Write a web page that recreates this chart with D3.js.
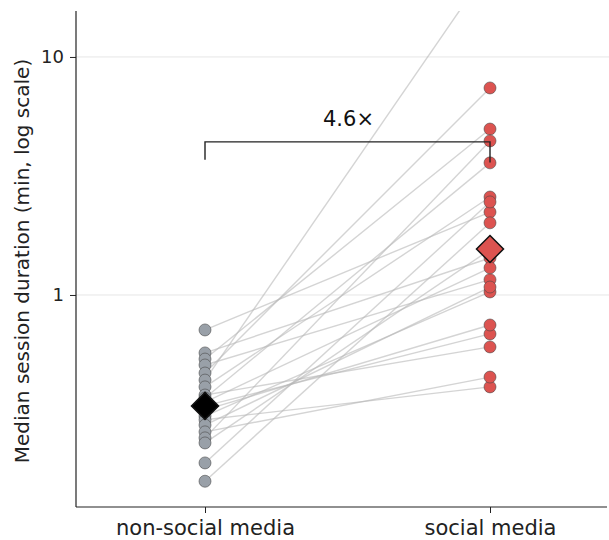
<!DOCTYPE html>
<html>
<head>
<meta charset="utf-8">
<script src="https://cdn.jsdelivr.net/npm/d3@7/dist/d3.min.js"></script>
<style>
  html, body { margin: 0; padding: 0; background: #fff; }
  svg { display: block; font-family: "DejaVu Sans", sans-serif; }
</style>
</head>
<body>
<svg id="chart" width="609" height="540"></svg>
<script>
// ---- data (minutes) ----
const categories = ["non-social media", "social media"];
const nonSocialValues = [0.713, 0.571, 0.538, 0.508, 0.470, 0.439, 0.411, 0.380, 0.369, 0.355,
                         0.342, 0.329, 0.310, 0.299, 0.284, 0.266, 0.251, 0.239, 0.197, 0.165];
const socialValues    = [2.23, 1.43, 4.98, 1.16, 7.41, 24.0, 2.58, 0.605, 3.59, 1.30,
                         0.686, 0.748, 1.03, 0.411, 1.08, 0.452, 4.44, 1.55, 2.46, 2.01];
const medianValues = [0.342, 1.56];
const ratioLabel = "4.6×";
const bracketLevels = [3.7, 4.4, 3.6]; // left drop, top, right drop
const yTickValues = [1, 10];
const yLabel = "Median session duration (min, log scale)";

// ---- layout ----
const svg = d3.select("#chart");
const margin = { left: 76, top: 11, right: 2, bottom: 33 };
const W = 609, H = 540;
const plotBottom = H - margin.bottom; // 507

const x = d3.scalePoint().domain(categories).range([205, 490]);
const y = d3.scaleLog().domain([0.1286, 15.6]).range([plotBottom, margin.top]);

svg.append("defs").append("clipPath").attr("id", "plotclip")
  .append("rect").attr("x", margin.left).attr("y", margin.top)
  .attr("width", W - margin.left).attr("height", plotBottom - margin.top);

// gridlines
svg.append("g").selectAll("line").data(yTickValues).join("line")
  .attr("x1", margin.left).attr("x2", W)
  .attr("y1", d => y(d)).attr("y2", d => y(d))
  .attr("stroke", "#e6e6e6").attr("stroke-width", 1);

// paired lines
const pairs = nonSocialValues.map((v, i) => [v, socialValues[i]]);
svg.append("g").attr("clip-path", "url(#plotclip)")
  .selectAll("line").data(pairs).join("line")
  .attr("x1", x(categories[0])).attr("x2", x(categories[1]))
  .attr("y1", d => y(d[0])).attr("y2", d => y(d[1]))
  .attr("stroke", "#b8b8b8").attr("stroke-opacity", 0.6).attr("stroke-width", 1.4);

// points
const pointColors = ["#99a0a8", "#dc5350"];
[nonSocialValues, socialValues].forEach((vals, ci) => {
  svg.append("g").attr("clip-path", "url(#plotclip)")
    .selectAll("circle").data(vals).join("circle")
    .attr("cx", x(categories[ci])).attr("cy", d => y(d)).attr("r", 6)
    .attr("fill", pointColors[ci]).attr("stroke", "#444").attr("stroke-width", 0.7)
    .attr("stroke-opacity", 0.8);
});

// median diamonds
const diamondFill = ["#000000", "#dc5350"];
medianValues.forEach((m, ci) => {
  const cx = x(categories[ci]), cy = y(m), s = 13.5;
  svg.append("path")
    .attr("d", `M${cx},${cy - s}L${cx + s},${cy}L${cx},${cy + s}L${cx - s},${cy}Z`)
    .attr("fill", diamondFill[ci]).attr("stroke", "#111").attr("stroke-width", 1.5)
    .attr("stroke-linejoin", "miter");
});

// bracket
const bx0 = x(categories[0]), bx1 = x(categories[1]);
svg.append("path")
  .attr("d", `M${bx0},${y(bracketLevels[0])}L${bx0},${y(bracketLevels[1])}L${bx1},${y(bracketLevels[1])}L${bx1},${y(bracketLevels[2])}`)
  .attr("fill", "none").attr("stroke", "#222").attr("stroke-width", 1.4);
svg.append("text")
  .attr("x", (bx0 + bx1) / 2 + 1).attr("y", y(bracketLevels[1]) - 16)
  .attr("text-anchor", "middle").attr("font-size", 21).attr("fill", "#111")
  .text(ratioLabel);

// axes
const yAxis = d3.axisLeft(y).tickValues(yTickValues).tickFormat(d3.format("d"))
  .tickSize(6).tickPadding(6);
const gy = svg.append("g").attr("transform", `translate(${margin.left},0)`).call(yAxis);
gy.select(".domain").attr("d", `M0,${margin.top}V${plotBottom}`).attr("stroke", "#222").attr("stroke-width", 1.2);
gy.selectAll(".tick line").attr("stroke", "#222");
gy.selectAll(".tick text").attr("font-size", 18).attr("fill", "#222").attr("font-family", "DejaVu Sans");

const xAxis = d3.axisBottom(x).tickSize(6).tickPadding(7);
const gx = svg.append("g").attr("transform", `translate(0,${plotBottom})`).call(xAxis);
gx.select(".domain").attr("d", `M${margin.left},0H${W - 2}`).attr("stroke", "#222").attr("stroke-width", 1.2);
gx.selectAll(".tick line").attr("stroke", "#222");
gx.selectAll(".tick text").attr("font-size", 21).attr("fill", "#222").attr("font-family", "DejaVu Sans");

svg.append("text")
  .attr("transform", `translate(29,${(margin.top + plotBottom) / 2 + 2}) rotate(-90)`)
  .attr("text-anchor", "middle").attr("font-size", 20).attr("fill", "#222")
  .text(yLabel);
</script>
</body>
</html>
